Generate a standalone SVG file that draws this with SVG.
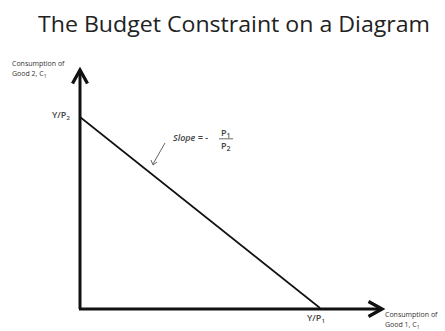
<svg xmlns="http://www.w3.org/2000/svg" width="445" height="331" viewBox="0 0 445 331">
<style>
.t{font-family:"Open Sans","Liberation Sans",sans-serif;fill:#222}
.ax{stroke:#111;stroke-width:3;fill:none}
.s{font-family:"Open Sans","Liberation Sans",sans-serif;font-size:7px;fill:#333}
.l{font-family:"Open Sans","Liberation Sans",sans-serif;font-size:9px;font-weight:600;fill:#444}
</style>
<defs>
<marker id="ah" markerWidth="6" markerHeight="6" refX="5" refY="3" orient="auto" markerUnits="strokeWidth">
<path d="M0.5,0.5 L5,3 L0.5,5.5" fill="none" stroke="#111" stroke-width="1.1"/>
</marker>
</defs>
<text class="t" x="38" y="32" font-size="22" textLength="392" lengthAdjust="spacingAndGlyphs">The Budget Constraint on a Diagram</text>
<g id="connectors">
<path class="ax" d="M80,309 V70" marker-end="url(#ah)"/>
<path class="ax" d="M79,309 H382" marker-end="url(#ah)"/>
<path d="M80,117 L320,308" stroke="#111" stroke-width="1.6" fill="none"/>
<path d="M165,143 L153,164" stroke="#555" stroke-width="0.9" fill="none"/>
<path d="M151,160 L153,165 L157,162" stroke="#555" stroke-width="0.9" fill="none"/>
</g>
<g id="yaxis-label">
<text class="s" x="12" y="66">Consumption of</text>
<text class="s" x="12" y="76">Good 2, C<tspan font-size="5" dy="2">1</tspan></text>
</g>
<g id="xaxis-label">
<text class="s" x="385" y="317">Consumption of</text>
<text class="s" x="385" y="327">Good 1, C<tspan font-size="5" dy="2">1</tspan></text>
</g>
<g id="yint">
<text class="l" x="52" y="118">Y/P<tspan font-size="6" dy="2">2</tspan></text>
</g>
<g id="xint">
<text class="l" x="307" y="321">Y/P<tspan font-size="6" dy="2">1</tspan></text>
</g>
<g id="slope">
<text class="l" x="173" y="141" font-style="italic">Slope = -</text>
<text class="l" x="221" y="136" font-size="10.5">P<tspan font-size="7" dy="2">1</tspan></text>
<line x1="219" y1="138.8" x2="233" y2="138.8" stroke="#444" stroke-width="0.8"/>
<text class="l" x="221" y="149" font-size="10.5">P<tspan font-size="7" dy="2">2</tspan></text>
</g>
</svg>
